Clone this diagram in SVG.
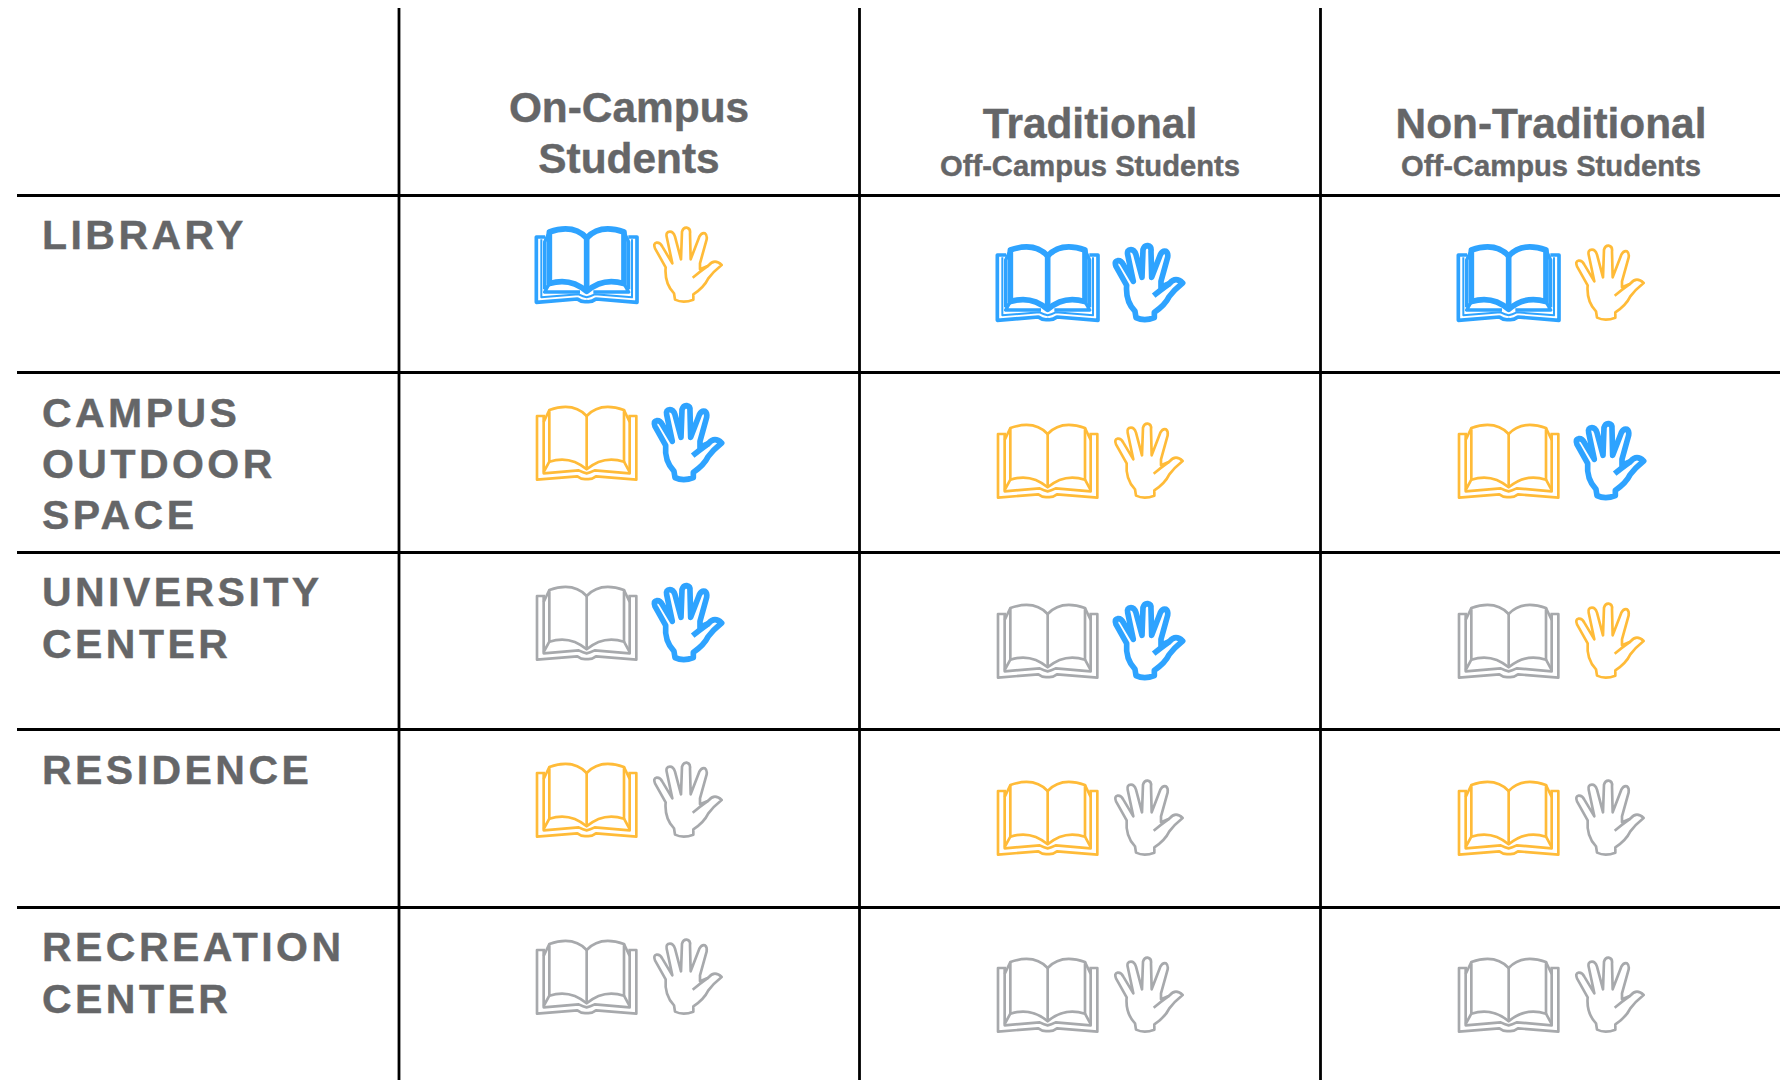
<svg xmlns="http://www.w3.org/2000/svg" width="1792" height="1080" viewBox="0 0 1792 1080">
<style>
.l{fill:none;stroke:#000;stroke-width:2.8}
.h{font-family:"Liberation Sans",Arial,sans-serif;font-weight:700;fill:#656668;stroke:#656668;stroke-width:.4px;text-anchor:middle}
.t{font-size:42.4px}
.s{font-size:29.2px}
.r{font-family:"Liberation Sans",Arial,sans-serif;font-weight:700;fill:#656668;stroke:#656668;stroke-width:.4px;font-size:41px;letter-spacing:3.45px}
.i{fill:none;stroke-linejoin:round;stroke-linecap:butt}
.blue{stroke:#2ea3ff;stroke-width:17}
.yel{stroke:#ffbb38;stroke-width:8}
.gry{stroke:#a7a9ac;stroke-width:8}
</style>
<defs>
<g id="book" transform="scale(.33333)">
<path d="M135,78H111V269L232,259Q245,269 260,267Q275,269 288,259L409,269V78H385"/>
<path d="M131,78V250L236,241Q250,248 260,250Q270,248 284,241L389,250V78"/>
<path d="M148,60Q220,35 260,78Q300,35 372,60V215Q310,195 260,238Q210,195 148,215Z"/>
<path d="M260,78V238M148,60L131,96M372,60L389,96M148,215L131,246M372,215L389,246"/>
</g>
<g id="bookB" transform="scale(.33333)">
<path stroke-width="11" d="M135,75H109V271L232,261Q245,271 260,269Q275,271 288,261L411,271V75H385"/>
<path stroke-width="6" d="M124,82V256L236,247Q250,254 260,256Q270,254 284,247L396,256V82"/>
<path d="M148,60Q220,35 260,78Q300,35 372,60V215Q310,195 260,238Q210,195 148,215Z"/>
<path d="M260,78V238"/>
<path stroke-width="10" d="M148,60L134,90V232M372,60L386,90V232M148,215L134,240H240M372,215L386,240H280"/>
</g>
<g id="hand" transform="scale(.33333) translate(0,-36)">
<path d="M525,299L522,280Q493,250 497,202L465,145Q459,130 470,128Q481,127 487,140L517,190L500,110Q497,95 510,95Q520,95 525,110L543,178L546,95Q550,82 560,83Q572,85 570,100L572,178L598,110Q605,97 615,100Q622,105 620,118L600,190L600,208L625,197Q635,185 645,185Q655,185 665,195Q640,215 625,235Q612,262 580,283V299Q550,311 525,299Z"/>
<path d="M578,233Q600,215 625,197"/>
</g>
</defs>
<g id="connectors">
<path class="l" d="M399,8V1080M859.5,8V1080M1320.5,8V1080"/>
<path class="l" d="M17,195.500H1780M17,372.500H1780M17,552.500H1780M17,729.500H1780M17,907.500H1780"/>
</g>
<g id="col-on-campus"><text class="h t" x="629" y="122">On-Campus</text><text class="h t" x="629" y="173">Students</text></g>
<g id="col-traditional"><text class="h t" x="1090" y="138">Traditional</text><text class="h s" x="1090" y="176">Off-Campus Students</text></g>
<g id="col-non-traditional"><text class="h t" x="1551" y="138">Non-Traditional</text><text class="h s" x="1551" y="176">Off-Campus Students</text></g>
<g id="row-library"><text class="r" x="42" y="249">LIBRARY</text></g>
<g id="row-outdoor"><text class="r" x="42" y="427">CAMPUS</text><text class="r" x="42" y="478">OUTDOOR</text><text class="r" x="42" y="529">SPACE</text></g>
<g id="row-university"><text class="r" x="42" y="606">UNIVERSITY</text><text class="r" x="42" y="658">CENTER</text></g>
<g id="row-residence"><text class="r" x="42" y="784">RESIDENCE</text></g>
<g id="row-recreation"><text class="r" x="42" y="961">RECREATION</text><text class="r" x="42" y="1013">CENTER</text></g>
<g class="i">
<g id="c11"><use href="#bookB" x="500" y="212" class="blue"/><use href="#hand" x="500" y="212" class="yel"/></g>
<g id="c12"><use href="#bookB" x="961" y="230" class="blue"/><use href="#hand" x="961" y="230" class="blue"/></g>
<g id="c13"><use href="#bookB" x="1422" y="230" class="blue"/><use href="#hand" x="1422" y="230" class="yel"/></g>
<g id="c21"><use href="#book" x="500" y="390" class="yel"/><use href="#hand" x="500" y="390" class="blue"/></g>
<g id="c22"><use href="#book" x="961" y="408" class="yel"/><use href="#hand" x="961" y="408" class="yel"/></g>
<g id="c23"><use href="#book" x="1422" y="408" class="yel"/><use href="#hand" x="1422" y="408" class="blue"/></g>
<g id="c31"><use href="#book" x="500" y="570" class="gry"/><use href="#hand" x="500" y="570" class="blue"/></g>
<g id="c32"><use href="#book" x="961" y="588" class="gry"/><use href="#hand" x="961" y="588" class="blue"/></g>
<g id="c33"><use href="#book" x="1422" y="588" class="gry"/><use href="#hand" x="1422" y="588" class="yel"/></g>
<g id="c41"><use href="#book" x="500" y="747" class="yel"/><use href="#hand" x="500" y="747" class="gry"/></g>
<g id="c42"><use href="#book" x="961" y="765" class="yel"/><use href="#hand" x="961" y="765" class="gry"/></g>
<g id="c43"><use href="#book" x="1422" y="765" class="yel"/><use href="#hand" x="1422" y="765" class="gry"/></g>
<g id="c51"><use href="#book" x="500" y="924" class="gry"/><use href="#hand" x="500" y="924" class="gry"/></g>
<g id="c52"><use href="#book" x="961" y="942" class="gry"/><use href="#hand" x="961" y="942" class="gry"/></g>
<g id="c53"><use href="#book" x="1422" y="942" class="gry"/><use href="#hand" x="1422" y="942" class="gry"/></g>
</g>
</svg>
